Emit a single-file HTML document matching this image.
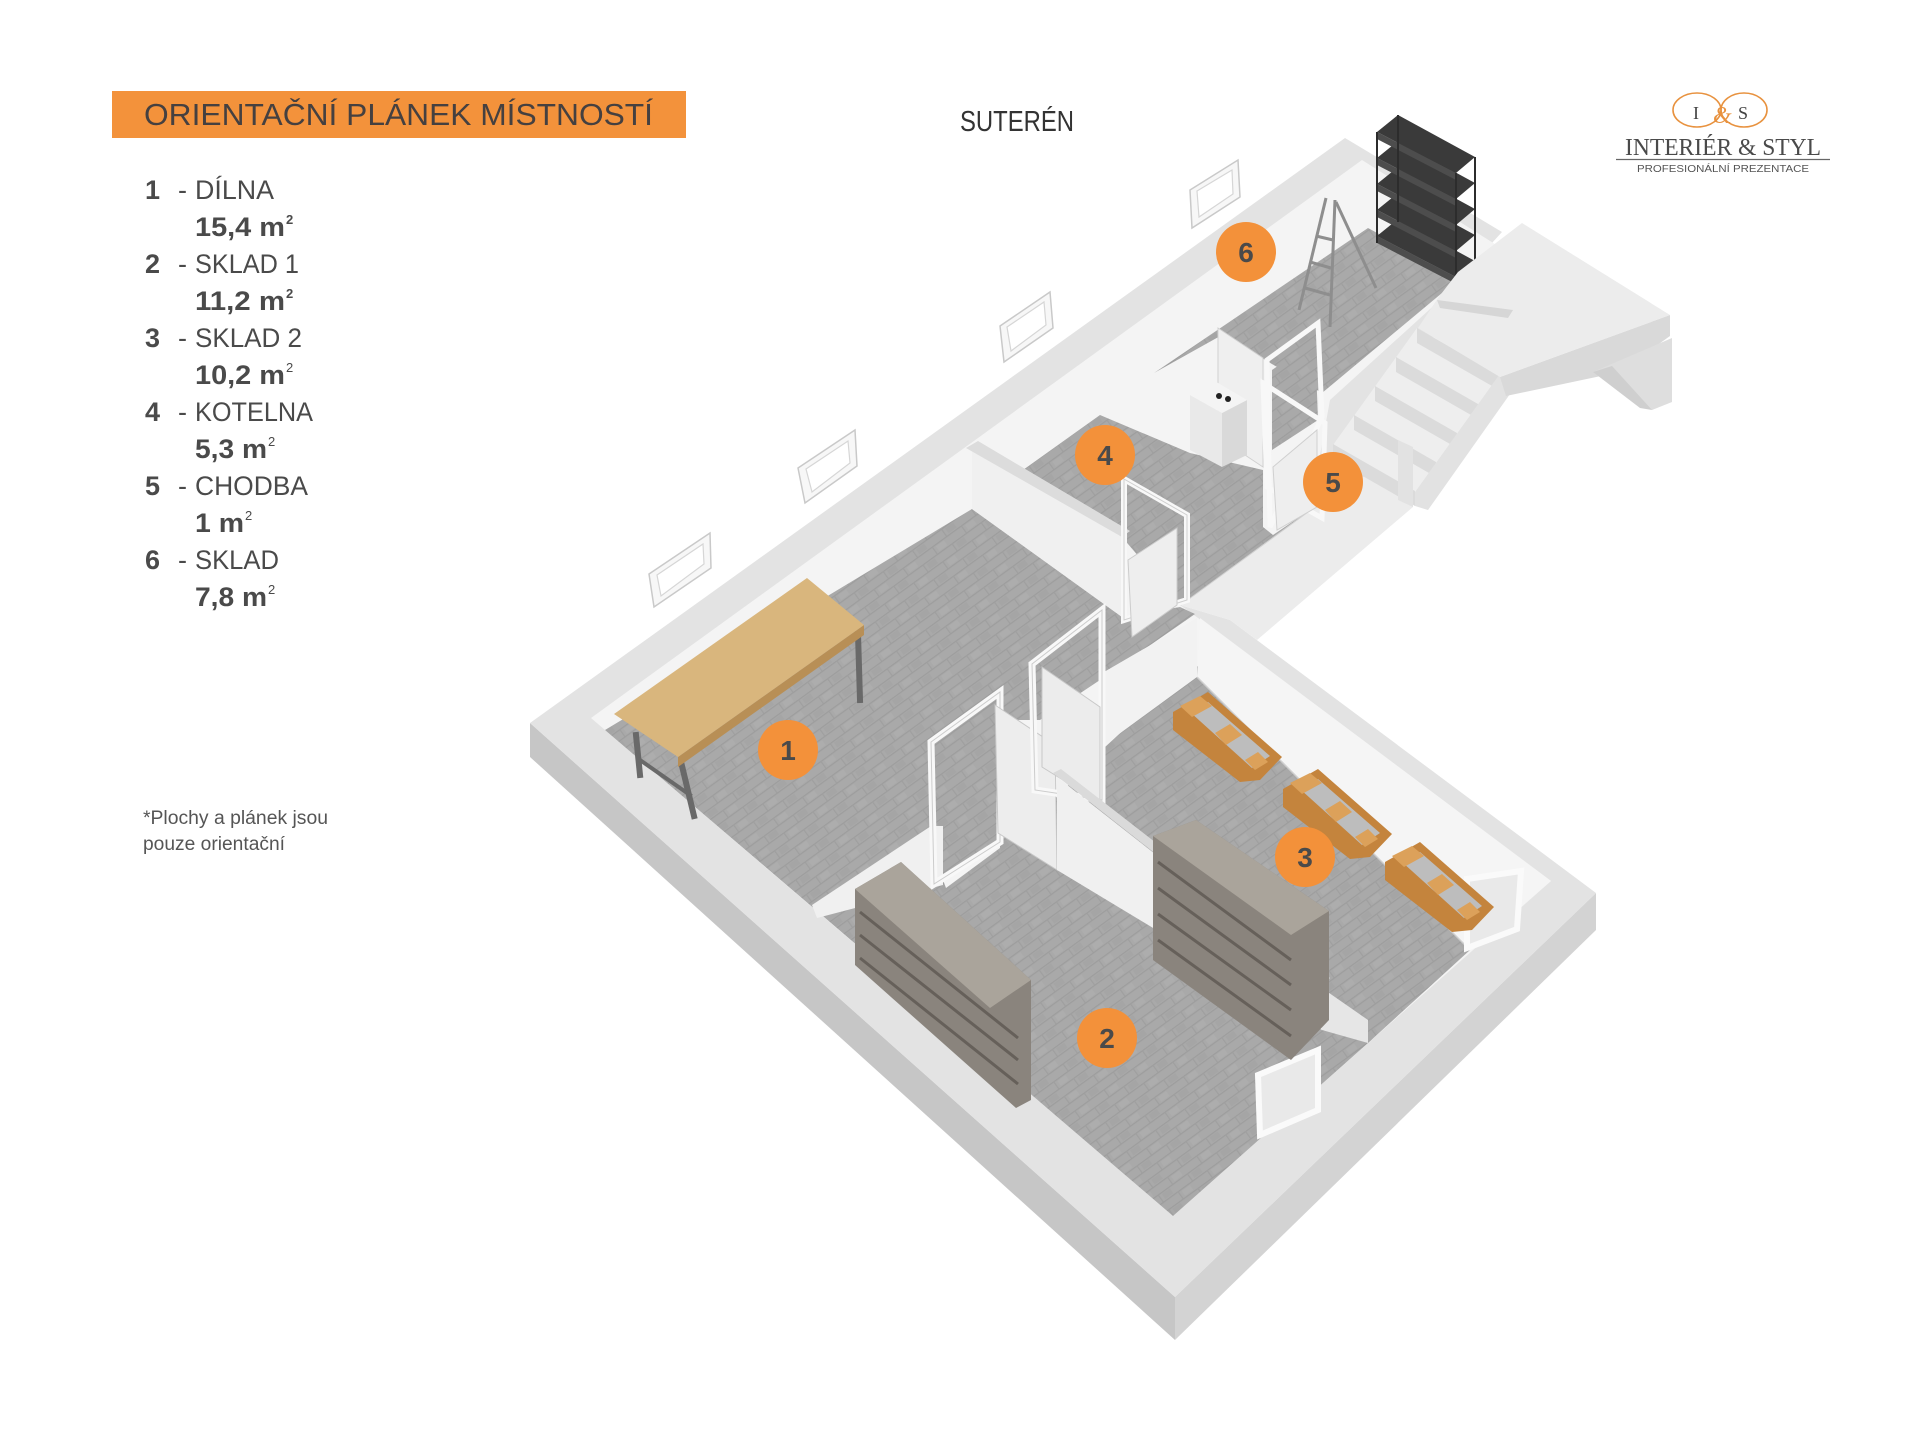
<!DOCTYPE html>
<html><head><meta charset="utf-8"><style>
html,body{margin:0;padding:0;background:#fff;}
svg{display:block;}
</style></head><body>
<svg width="1920" height="1440" viewBox="0 0 1920 1440" xmlns="http://www.w3.org/2000/svg" font-family="Liberation Sans, sans-serif">
<defs>
  <pattern id="tx" width="36" height="18" patternUnits="userSpaceOnUse" patternTransform="rotate(-36)">
    <rect width="36" height="18" fill="#a9a9a9"/>
    <rect x="0" y="0" width="36" height="1.2" fill="#9d9d9d"/>
    <rect x="0" y="9" width="36" height="1.2" fill="#9d9d9d"/>
    <rect x="0" y="0" width="1.2" height="9" fill="#9f9f9f"/>
    <rect x="18" y="9" width="1.2" height="9" fill="#9f9f9f"/>
    <rect x="4" y="2" width="10" height="6" fill="#adadad"/>
    <rect x="22" y="11" width="10" height="6" fill="#a5a5a5"/>
  </pattern>
</defs>
<rect width="1920" height="1440" fill="#ffffff"/>

<!-- ===== Title banner ===== -->
<rect x="112" y="91" width="574" height="47" fill="#F3923B"/>
<text x="144" y="125" font-size="31" fill="#454040" textLength="509" lengthAdjust="spacingAndGlyphs">ORIENTAČNÍ PLÁNEK MÍSTNOSTÍ</text>

<!-- ===== Legend ===== -->
<g fill="#4a4a4a" font-size="27">
  <text x="145" y="199" font-weight="bold">1</text><text x="178" y="199">-</text><text x="195" y="199" textLength="79" lengthAdjust="spacingAndGlyphs">DÍLNA</text>
  <text x="195" y="236" font-weight="bold" textLength="90" lengthAdjust="spacingAndGlyphs">15,4 m</text><text x="286" y="224" font-size="13" font-weight="bold">2</text>
  <text x="145" y="273" font-weight="bold">2</text><text x="178" y="273">-</text><text x="195" y="273" textLength="104" lengthAdjust="spacingAndGlyphs">SKLAD 1</text>
  <text x="195" y="310" font-weight="bold" textLength="90" lengthAdjust="spacingAndGlyphs">11,2 m</text><text x="286" y="298" font-size="13" font-weight="bold">2</text>
  <text x="145" y="347" font-weight="bold">3</text><text x="178" y="347">-</text><text x="195" y="347" textLength="107" lengthAdjust="spacingAndGlyphs">SKLAD 2</text>
  <text x="195" y="384" font-weight="bold" textLength="90" lengthAdjust="spacingAndGlyphs">10,2 m</text><text x="286" y="372" font-size="13">2</text>
  <text x="145" y="421" font-weight="bold">4</text><text x="178" y="421">-</text><text x="195" y="421" textLength="118" lengthAdjust="spacingAndGlyphs">KOTELNA</text>
  <text x="195" y="458" font-weight="bold" textLength="72" lengthAdjust="spacingAndGlyphs">5,3 m</text><text x="268" y="446" font-size="13">2</text>
  <text x="145" y="495" font-weight="bold">5</text><text x="178" y="495">-</text><text x="195" y="495" textLength="113" lengthAdjust="spacingAndGlyphs">CHODBA</text>
  <text x="195" y="532" font-weight="bold" textLength="49" lengthAdjust="spacingAndGlyphs">1 m</text><text x="245" y="520" font-size="13">2</text>
  <text x="145" y="569" font-weight="bold">6</text><text x="178" y="569">-</text><text x="195" y="569" textLength="84" lengthAdjust="spacingAndGlyphs">SKLAD</text>
  <text x="195" y="606" font-weight="bold" textLength="72" lengthAdjust="spacingAndGlyphs">7,8 m</text><text x="268" y="594" font-size="13">2</text>
</g>

<!-- footnote -->
<g fill="#555" font-size="19">
  <text x="143" y="824" textLength="185" lengthAdjust="spacingAndGlyphs">*Plochy  a plánek jsou</text>
  <text x="143" y="850" textLength="142" lengthAdjust="spacingAndGlyphs">pouze orientační</text>
</g>

<!-- SUTEREN -->
<text x="960" y="131" font-size="29" fill="#333" textLength="114" lengthAdjust="spacingAndGlyphs">SUTERÉN</text>

<!-- ===== Logo ===== -->
<g>
  <ellipse cx="1697" cy="110" rx="24" ry="17" fill="none" stroke="#E8923F" stroke-width="1.6"/>
  <ellipse cx="1744" cy="110" rx="23" ry="17" fill="none" stroke="#E8923F" stroke-width="1.6"/>
  <text x="1693" y="119" font-family="Liberation Serif, serif" font-size="18" fill="#444">I</text>
  <text x="1738" y="119" font-family="Liberation Serif, serif" font-size="18" fill="#444">S</text>
  <text x="1713" y="123" font-family="Liberation Serif, serif" font-size="24" font-style="italic" fill="#E8923F">&amp;</text>
  <text x="1625" y="155" font-family="Liberation Serif, serif" font-size="24" fill="#4a4a4a" textLength="196" lengthAdjust="spacingAndGlyphs">INTERIÉR &amp; STYL</text>
  <line x1="1616" y1="159.5" x2="1830" y2="159.5" stroke="#666" stroke-width="1.3"/>
  <text x="1637" y="172" font-size="10.5" fill="#555" textLength="172" lengthAdjust="spacingAndGlyphs">PROFESIONÁLNÍ PREZENTACE</text>
</g>

<!-- ===== Building ===== -->
<!-- outer faces -->
<polygon points="530,723 1175,1297 1175,1340 530,757" fill="#c6c6c6"/>
<polygon points="1175,1297 1596,893 1596,930 1175,1340" fill="#d3d3d3"/>
<!-- top surface of walls -->
<polygon points="530,723 1345,138 1502,232 1440,300 1413,447 1310,510 1180,605 1230,620 1596,893 1175,1297" fill="#e3e3e3"/>
<!-- wing SE wall (top + outer face) -->
<polygon points="1180,605 1310,510 1413,447 1413,507 1257,640 1230,620" fill="#ececec"/>
<line x1="1180" y1="605" x2="1310" y2="510" stroke="#d2d2d2" stroke-width="2"/>
<!-- interior (inner wall faces) -->
<polygon points="591,718 1362,160 1498,246 1440,300 1330,400 1310,510 1180,605 1205,623 1551,881 1173,1216" fill="#f4f4f4"/>

<!-- floors -->
<g fill="url(#tx)">
  <polygon points="605,730 972,509 1122,617 1180,607 1195,614 1100,680 1040,720 1000,720 931,742 931,867 817,911"/>
  <polygon points="931,742 1000,692 1000,835 1056,866 1368,1043 1173,1216 817,911 931,867"/>
  <polygon points="1104,748 1195,664 1470,950 1368,1043 1054,868 1054,800"/>
  <polygon points="1023,470 1100,415 1190,453 1263,470 1263,527 1273,535 1310,510 1187,600 1180,605 1122,537"/>
  <polygon points="1154,373 1368,228 1460,278 1322,393 1222,335"/>
  <polygon points="1272,370 1315,340 1318,420 1272,450"/>
</g>

<!-- outside windows along NW wall -->
<g fill="#f7f7f7" stroke="#c9c9c9" stroke-width="1.5">
  <polygon points="649,574 710,533 711,568 654,607"/>
  <polygon points="798,468 855,430 857,466 805,503"/>
  <polygon points="1000,326 1050,292 1053,328 1004,362"/>
  <polygon points="1190,190 1238,160 1240,197 1192,228"/>
</g>
<g fill="#ffffff" stroke="#d6d6d6" stroke-width="1.2">
  <polygon points="657,575 703,544 704,564 661,596"/>
  <polygon points="806,469 848,441 850,463 812,492"/>
  <polygon points="1007,327 1044,302 1046,325 1011,351"/>
  <polygon points="1197,191 1232,170 1233,194 1199,217"/>
</g>

<!-- partition room1/room4 -->
<polygon points="972,450 1122,537 1122,617 972,509" fill="#f0f0f0"/>
<polygon points="966,448 978,441 1130,531 1122,537" fill="#dcdcdc"/>
<!-- room 4 door -->
<polygon points="1124,479 1187,515 1187,600 1124,620" fill="none" stroke="#f8f8f8" stroke-width="6"/>
<polygon points="1124,479 1187,515 1187,600 1124,620" fill="none" stroke="#cfcfcf" stroke-width="1"/>
<polygon points="1128,560 1177,528 1177,605 1132,637" fill="#eeeeee" stroke="#cccccc" stroke-width="1"/>

<!-- partition room1/room2 piece -->
<polygon points="812,905 931,826 943,826 943,885 817,918" fill="#f0f0f0"/>
<polygon points="943,880 1000,840 1000,848 946,888" fill="#f4f4f4"/>
<!-- room 2 door -->
<polygon points="931,742 1000,692 1000,842 934,884" fill="none" stroke="#f8f8f8" stroke-width="7"/>
<polygon points="931,742 1000,692 1000,842 934,884" fill="none" stroke="#cccccc" stroke-width="1"/>
<polygon points="995,705 1055,745 1057,870 998,833" fill="#ededed" stroke="#c8c8c8" stroke-width="1"/>

<!-- room 3 NW wall face -->
<polygon points="1104,672 1197,618 1197,677 1104,745" fill="#f2f2f2"/>
<!-- room 3 door -->
<polygon points="1032,664 1102,610 1102,800 1035,790" fill="none" stroke="#f8f8f8" stroke-width="7"/>
<polygon points="1032,664 1102,610 1102,800 1035,790" fill="none" stroke="#cccccc" stroke-width="1"/>
<polygon points="1042,667 1100,707 1100,803 1042,767" fill="#ececec" stroke="#c8c8c8" stroke-width="1"/>

<!-- partition room2/room3 -->
<polygon points="1057,777 1322,985 1322,1030 1057,870" fill="#f0f0f0"/>
<polygon points="1053,773 1061,769 1330,978 1322,985" fill="#dadada"/>
<polygon points="1322,988 1368,1020 1368,1043 1322,1030" fill="#e6e6e6"/>

<!-- room 3 NE wall face -->
<polygon points="1200,618 1551,881 1470,950 1197,677" fill="#f5f5f5"/>
<line x1="1197" y1="677" x2="1470" y2="950" stroke="#cfcfcf" stroke-width="1.5"/>

<!-- room windows (inside) -->
<polygon points="1258,1075 1318,1050 1318,1110 1260,1135" fill="#e9e9e9" stroke="#fafafa" stroke-width="6"/>
<polygon points="1467,879 1521,871 1517,929 1467,948" fill="#e9e9e9" stroke="#fafafa" stroke-width="6"/>

<!-- bench -->
<g stroke="#696969" stroke-width="6" stroke-linecap="square">
  <line x1="682" y1="766" x2="694" y2="816"/>
  <line x1="858" y1="634" x2="860" y2="700"/>
  <line x1="636" y1="735" x2="640" y2="775"/>
  <line x1="812" y1="600" x2="814" y2="650"/>
  <line x1="640" y1="760" x2="690" y2="795" stroke-width="4"/>
</g>
<polygon points="678,757 864,625 864,635 678,767" fill="#b88f56"/>
<polygon points="614,714 807,578 864,625 678,757" fill="#d9b67d"/>

<!-- room 2 shelves -->
<polygon points="855,889 901,862 1031,980 1031,1100 1016,1108 855,965" fill="#8a847d"/>
<g stroke="#66605a" stroke-width="3" fill="none">
  <polyline points="860,912 1018,1038"/>
  <polyline points="860,935 1018,1060"/>
  <polyline points="860,958 1018,1084"/>
</g>
<polygon points="855,889 901,862 1031,980 990,1008" fill="#aaa49b"/>
<polygon points="1153,836 1196,820 1329,911 1329,1020 1291,1060 1153,960" fill="#8a847d"/>
<g stroke="#66605a" stroke-width="3" fill="none">
  <polyline points="1158,862 1291,960"/>
  <polyline points="1158,888 1291,985"/>
  <polyline points="1158,914 1291,1010"/>
  <polyline points="1158,940 1291,1036"/>
</g>
<polygon points="1153,836 1196,820 1329,911 1291,935" fill="#aaa49b"/>

<!-- firewood piles -->
<g id="pile">
  <polygon points="1173,712 1208,692 1282,757 1260,780 1240,782 1173,730" fill="#c4843d"/>
  <polygon points="1190,712 1208,702 1270,756 1252,768" fill="#bdbdbd"/>
  <polygon points="1180,706 1200,696 1212,706 1192,717" fill="#dca15a"/>
  <polygon points="1215,733 1230,724 1242,735 1226,745" fill="#dca15a"/>
  <polygon points="1245,760 1258,752 1268,762 1255,770" fill="#dca15a"/>
</g>
<use href="#pile" transform="translate(110,77)"/>
<use href="#pile" transform="translate(212,150)"/>

<!-- wing: room 6 door panel and frames -->
<polygon points="1218,328 1263,358 1263,467 1218,437" fill="#efefef" stroke="#d0d0d0" stroke-width="1"/>
<polygon points="1267,360 1318,323 1322,417 1270,527" fill="none" stroke="#f8f8f8" stroke-width="5"/>
<polygon points="1263,383 1325,423 1322,518 1267,487" fill="none" stroke="#f8f8f8" stroke-width="5"/>
<polygon points="1273,467 1317,430 1317,507 1277,530" fill="#eeeeee" stroke="#d0d0d0" stroke-width="1"/>

<!-- boiler -->
<polygon points="1190,395 1222,413 1222,467 1190,450" fill="#e9e9e9"/>
<polygon points="1222,413 1247,400 1247,455 1222,467" fill="#d9d9d9"/>
<polygon points="1190,395 1213,380 1247,400 1222,413" fill="#f4f4f4"/>
<circle cx="1219" cy="396" r="3" fill="#222"/>
<circle cx="1228" cy="399" r="3" fill="#222"/>

<!-- ladder -->
<g stroke="#8e8e8e" stroke-width="3" fill="none">
  <line x1="1326" y1="198" x2="1299" y2="310"/>
  <line x1="1335" y1="200" x2="1330" y2="327"/>
  <line x1="1336" y1="202" x2="1376" y2="288"/>
  <line x1="1310" y1="262" x2="1331" y2="268"/>
  <line x1="1316" y1="236" x2="1333" y2="240"/>
  <line x1="1305" y1="288" x2="1330" y2="295"/>
</g>

<!-- black shelf -->
<g>
  <g fill="#3a3a3a">
    <polygon points="1377,132 1398,115 1475,157 1456,173"/>
    <polygon points="1377,158 1398,141 1475,183 1456,199"/>
    <polygon points="1377,184 1398,167 1475,209 1456,225"/>
    <polygon points="1377,210 1398,193 1475,235 1456,251"/>
    <polygon points="1377,236 1398,219 1475,261 1456,277"/>
  </g>
  <g fill="#4d4d4d">
    <polygon points="1377,132 1456,173 1456,180 1377,139"/>
    <polygon points="1377,158 1456,199 1456,206 1377,165"/>
    <polygon points="1377,184 1456,225 1456,232 1377,191"/>
    <polygon points="1377,210 1456,251 1456,258 1377,217"/>
    <polygon points="1377,236 1456,277 1456,284 1377,243"/>
  </g>
  <g stroke="#2c2c2c" stroke-width="2">
    <line x1="1377" y1="132" x2="1377" y2="243"/>
    <line x1="1398" y1="115" x2="1398" y2="222"/>
    <line x1="1475" y1="157" x2="1475" y2="264"/>
    <line x1="1456" y1="173" x2="1456" y2="284"/>
  </g>
</g>

<!-- stairs flight -->
<polygon points="1417,328 1499,375 1415,492 1333,445" fill="#eeeeee"/>
<g fill="#dbdbdb">
  <polygon points="1417,328 1499,375 1499,390 1417,343"/>
  <polygon points="1396,357 1478,404 1478,419 1396,372"/>
  <polygon points="1375,386 1457,433 1457,448 1375,401"/>
  <polygon points="1354,415 1436,462 1436,477 1354,430"/>
  <polygon points="1333,444 1415,491 1415,506 1333,459"/>
</g>
<polygon points="1499,375 1510,394 1428,510 1415,506 1415,492" fill="#e2e2e2"/>
<polygon points="1398,440 1413,447 1413,507 1398,500" fill="#e2e2e2"/>
<!-- landing -->
<polygon points="1500,377 1670,315 1670,336 1620,372 1506,396" fill="#d9d9d9"/>
<polygon points="1593,372 1672,338 1672,402 1652,410" fill="#dedede"/>
<polygon points="1593,372 1612,366 1652,410 1640,408" fill="#cfcfcf"/>
<polygon points="1438,298 1458,272 1522,223 1670,315 1500,377 1418,328" fill="#ececec"/>
<polygon points="1437,300 1513,310 1508,318 1440,308" fill="#d6d6d6"/>

<!-- ===== Number circles ===== -->
<g fill="#F3913A">
  <circle cx="788" cy="750" r="30"/>
  <circle cx="1107" cy="1038" r="30"/>
  <circle cx="1305" cy="857" r="30"/>
  <circle cx="1105" cy="455" r="30"/>
  <circle cx="1333" cy="482" r="30"/>
  <circle cx="1246" cy="252" r="30"/>
</g>
<g fill="#4a4a4a" font-size="28" font-weight="bold" text-anchor="middle">
  <text x="788" y="760">1</text>
  <text x="1107" y="1048">2</text>
  <text x="1305" y="867">3</text>
  <text x="1105" y="465">4</text>
  <text x="1333" y="492">5</text>
  <text x="1246" y="262">6</text>
</g>
</svg>
</body></html>
